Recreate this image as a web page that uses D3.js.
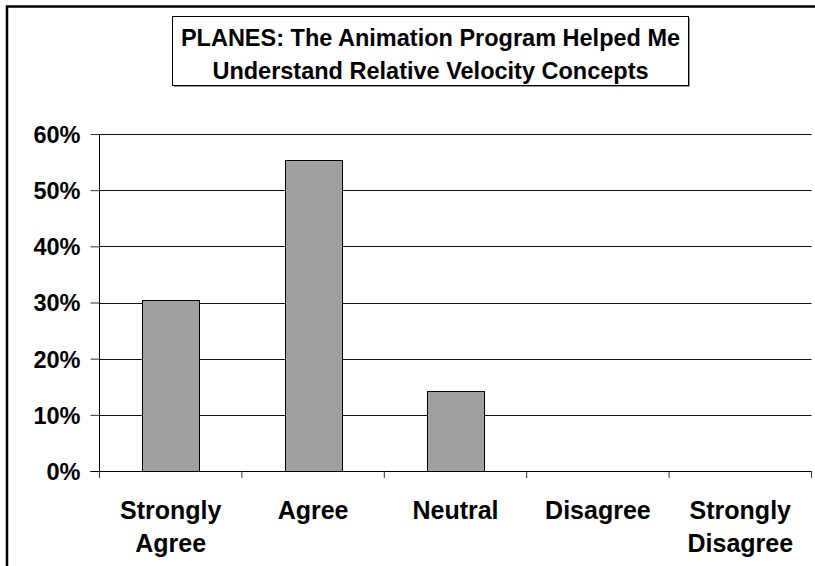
<!DOCTYPE html>
<html>
<head>
<meta charset="utf-8">
<script src="https://cdn.jsdelivr.net/npm/d3@7"></script>
<style>
  html, body { margin: 0; padding: 0; background: #fff; }
  svg { display: block; }
  text { font-family: "Liberation Sans", Arial, sans-serif; font-weight: bold; fill: #000; }
</style>
</head>
<body>
<svg id="chart" width="815" height="566"></svg>
<script>
// ---- data ----
const categories = ["Strongly Agree", "Agree", "Neutral", "Disagree", "Strongly Disagree"];
const categoryLines = [["Strongly", "Agree"], ["Agree"], ["Neutral"], ["Disagree"], ["Strongly", "Disagree"]];
const percentValues = [30.4, 55.4, 14.3, 0, 0];
const yTickValues = [0, 10, 20, 30, 40, 50, 60];
const titleLines = ["PLANES: The Animation Program Helped Me", "Understand Relative Velocity Concepts"];

const svg = d3.select("#chart");
const W = 815, H = 566;
const plot = { left: 99.5, right: 811.5, top: 134, bottom: 471 };

// outer frame (extends beyond right/bottom of the picture)
svg.append("rect")
  .attr("x", 7).attr("y", 6.5)
  .attr("width", W + 20).attr("height", H + 20)
  .attr("fill", "none").attr("stroke", "#000").attr("stroke-width", 2.5);

// title box
const tb = { x: 172.5, y: 16.5, w: 516, h: 69 };
svg.append("rect")
  .attr("x", tb.x + 1.5).attr("y", tb.y + 1.5).attr("width", tb.w).attr("height", tb.h)
  .attr("fill", "#999");
svg.append("rect")
  .attr("x", tb.x).attr("y", tb.y).attr("width", tb.w).attr("height", tb.h)
  .attr("fill", "#fff").attr("stroke", "#000").attr("stroke-width", 1);
const tcx = tb.x + tb.w / 2;
titleLines.forEach((t, i) => {
  svg.append("text")
    .attr("text-anchor", "middle")
    .attr("font-size", 23.5)
    .attr("x", tcx).attr("y", 45.5 + i * 33)
    .text(t);
});

// scales
const y = d3.scaleLinear().domain([0, 60]).range([plot.bottom, plot.top]);
const x = d3.scaleBand().domain(categories).range([plot.left, plot.right])
  .paddingInner(0.6).paddingOuter(0.3);
const xEdge = d3.scaleBand().domain(categories).range([plot.left, plot.right]).padding(0);

// gridlines
svg.append("g").selectAll("line").data(yTickValues.filter(v => v > 0)).join("line")
  .attr("x1", plot.left).attr("x2", plot.right)
  .attr("y1", d => Math.round(y(d)) + 0.5).attr("y2", d => Math.round(y(d)) + 0.5)
  .attr("stroke", "#111").attr("stroke-width", 1);

// bars
svg.append("g").selectAll("rect").data(categories).join("rect")
  .attr("x", d => Math.round(x(d)) + 0.5)
  .attr("y", (d, i) => Math.round(y(percentValues[i])) + 0.5)
  .attr("width", Math.round(x.bandwidth()))
  .attr("height", (d, i) => Math.round(y(0)) - Math.round(y(percentValues[i])))
  .attr("fill", (d, i) => percentValues[i] > 0 ? "#a0a0a0" : "none")
  .attr("stroke", (d, i) => percentValues[i] > 0 ? "#000" : "none")
  .attr("stroke-width", 1);

// y axis
const yAxis = d3.axisLeft(y).tickValues(yTickValues).tickFormat(d => d + "%")
  .tickSize(9).tickPadding(10);
const gy = svg.append("g").attr("transform", `translate(${plot.left},0)`).call(yAxis);
gy.select(".domain").attr("stroke", "#000").attr("d", `M0,${plot.top}V${plot.bottom + 7}`);
gy.selectAll(".tick line").attr("stroke", "#333");
gy.selectAll(".tick text")
  .attr("font-size", 23.5)
  .attr("font-family", '"Liberation Sans", Arial, sans-serif')
  .attr("font-weight", "bold")
  .attr("fill", "#000")
  .attr("dy", "0.36em");

// x axis line (0%) and category boundary ticks
svg.append("line")
  .attr("x1", plot.left - 9).attr("x2", plot.right)
  .attr("y1", plot.bottom + 0.5).attr("y2", plot.bottom + 0.5)
  .attr("stroke", "#000");
const edges = categories.map(c => xEdge(c)).concat([plot.right]);
svg.append("g").selectAll("line").data(edges).join("line")
  .attr("x1", d => d).attr("x2", d => d)
  .attr("y1", plot.bottom).attr("y2", plot.bottom + 7)
  .attr("stroke", "#333");

// category labels
const gl = svg.append("g");
categories.forEach((c, i) => {
  const cx = x(c) + x.bandwidth() / 2;
  categoryLines[i].forEach((ln, j) => {
    gl.append("text")
      .attr("text-anchor", "middle")
      .attr("font-size", 25)
      .attr("x", cx).attr("y", 519 + j * 33)
      .text(ln);
  });
});
</script>
</body>
</html>
